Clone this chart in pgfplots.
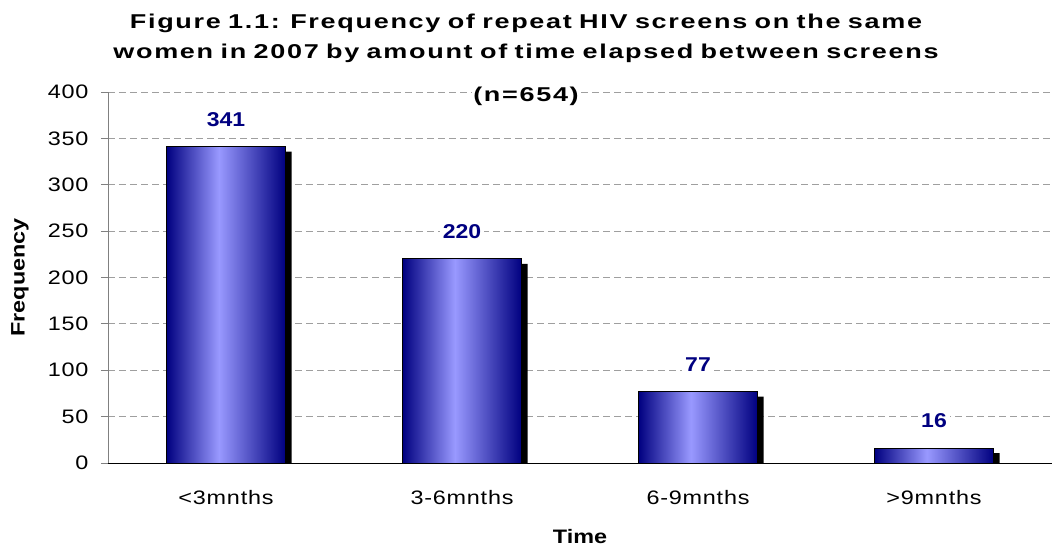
\documentclass[border=0pt]{standalone}
\usepackage{fontspec}
\setmainfont{Liberation Sans}
\newfontfamily\titlefam[FakeStretch=1.35,LetterSpace=8.5,WordSpace=0.8]{Liberation Sans}
\newfontfamily\tickfam[FakeStretch=1.2,LetterSpace=4]{Liberation Sans}
\newfontfamily\valfam[FakeStretch=1.15]{Liberation Sans}
\newfontfamily\labfam[FakeStretch=1.2]{Liberation Sans}
\usepackage{pgfplots}
\pgfplotsset{compat=1.18}
\definecolor{bardark}{RGB}{0,0,128}
\definecolor{barlight}{RGB}{153,153,255}
\definecolor{valcol}{RGB}{0,0,128}
\pgfdeclarehorizontalshading{barshade}{100bp}{color(0bp)=(bardark); color(25bp)=(bardark); color(47bp)=(barlight); color(75bp)=(bardark); color(100bp)=(bardark)}
\pgfplotsset{
  mybar/.style={ybar, bar width=119pt, bar shift=0pt, draw=black, line width=1pt, shade, shading=barshade,
    nodes near coords,
    nodes near coords style={font=\valfam\bfseries\fontsize{20}{22}\selectfont, text=valcol, fill=white, inner sep=3pt, anchor=south, yshift=17pt}},
}
\begin{document}
\begin{tikzpicture}[x=1pt,y=1pt]
\path[use as bounding box] (0,0) rectangle (1057,550);
\begin{axis}[
  at={(108pt,87pt)}, anchor=south west,
  scale only axis, width=944pt, height=371pt,
  xmin=-0.5, xmax=3.5, ymin=0, ymax=400,
  ytick={0,50,...,400},
  xtick={0,1,2,3},
  xticklabels={{<3mnths},{3-6mnths},{6-9mnths},{>9mnths}},
  minor xtick={-0.5,0.5,1.5,2.5,3.5},
  axis x line*=bottom, axis y line*=left,
  x axis line style={black,-, line width=0.8pt},
  y axis line style={gray,-, line width=0.8pt},
  tick align=outside,
  major tick length=7pt, minor tick length=7pt,
  xtick style={draw=none},
  minor x tick style={gray, line width=0.8pt},
  ytick style={gray, line width=0.8pt},
  ymajorgrids,
  grid style={draw=gray!75, dash pattern=on 7pt off 4pt, line width=0.8pt},
  /pgf/number format/assume math mode=true,
  tick label style={font=\tickfam\fontsize{19.5}{22}\selectfont},
  xticklabel style={anchor=center, yshift=-28pt},
  yticklabel style={anchor=east, xshift=-9pt},
  xlabel={Time}, ylabel={Frequency},
  every axis x label/.style={at={(axis description cs:0.5,0)}, yshift=-74pt, anchor=center, font=\labfam\bfseries\fontsize{19.5}{22}\selectfont},
  every axis y label/.style={at={(axis description cs:0,0.5)}, xshift=-88pt, rotate=90, anchor=center, font=\labfam\bfseries\fontsize{19.5}{22}\selectfont},
]
\addplot[ybar, bar width=119pt, bar shift=6pt, fill=black, draw=none]
  coordinates {(0,335.6) (1,214.6) (2,71.6) (3,10.6)};
\addplot[mybar] coordinates {(0,341)};
\addplot[mybar] coordinates {(1,220)};
\addplot[mybar] coordinates {(2,77)};
\addplot[mybar] coordinates {(3,16)};
\end{axis}
\node[font=\titlefam\bfseries\fontsize{20}{22}\selectfont, anchor=base] at (526,521.7) {Figure 1.1: Frequency of repeat HIV screens on the same};
\node[font=\titlefam\bfseries\fontsize{20}{22}\selectfont, anchor=base] at (526,491.7) {women in 2007 by amount of time elapsed between screens};
\node[font=\titlefam\bfseries\fontsize{20}{22}\selectfont, anchor=base, fill=white, inner sep=1pt] at (526,448.3) {(n=654)};
\end{tikzpicture}
\end{document}
